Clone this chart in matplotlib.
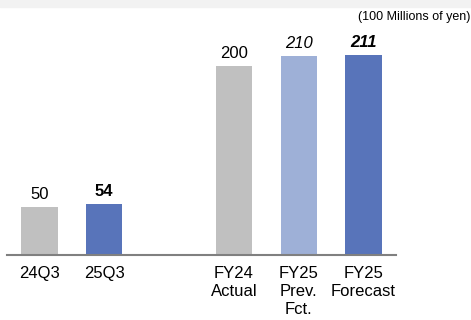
import matplotlib
matplotlib.use("Agg")
import matplotlib.pyplot as plt

categories = ["24Q3", "25Q3", "FY24\nActual", "FY25\nPrev.\nFct.", "FY25\nForecast"]
values = [50, 54, 200, 210, 211]
labels = ["50", "54", "200", "210", "211"]
positions = [0, 1, 3, 4, 5]
colors = ["#c0c0c0", "#5874ba", "#c0c0c0", "#9eb0d7", "#5874ba"]
weights = ["normal", "bold", "normal", "normal", "bold"]
styles = ["normal", "normal", "normal", "italic", "italic"]

plt.rcParams['font.family'] = ['Liberation Sans', 'DejaVu Sans']

fig = plt.figure(figsize=(4.71, 3.2), dpi=100)
fig.patches.append(plt.Rectangle((0, 1 - 7/320), 1, 7/320, transform=fig.transFigure,
                                 color="#f2f2f2", zorder=0))
ax = fig.add_axes([7/471, (320-254.5)/320, (396-7)/471, (254.5-20)/320])
ax.bar(positions, values, width=0.56, color=colors, zorder=2)
ax.set_xlim(-0.5, 5.5)
ax.set_ylim(0, 248.4)
for s in ["top", "right", "left"]:
    ax.spines[s].set_visible(False)
ax.spines["bottom"].set_color("#808080")
ax.spines["bottom"].set_linewidth(1.5)
ax.set_yticks([])
ax.set_xticks(positions)
ax.set_xticklabels(categories, fontsize=12, linespacing=1.22)
ax.tick_params(axis="x", length=0, pad=8.5)
for p, v, l, w, st in zip(positions, values, labels, weights, styles):
    ax.annotate(l, (p, v), xytext=(0, 3.5), textcoords="offset points", ha="center",
                va="bottom", fontsize=12, fontweight=w, fontstyle=st)
fig.text(470/471, 1 - 17/320, "(100 Millions of yen)", ha="right", va="center", fontsize=9)
fig.savefig("out.png", dpi=100)
